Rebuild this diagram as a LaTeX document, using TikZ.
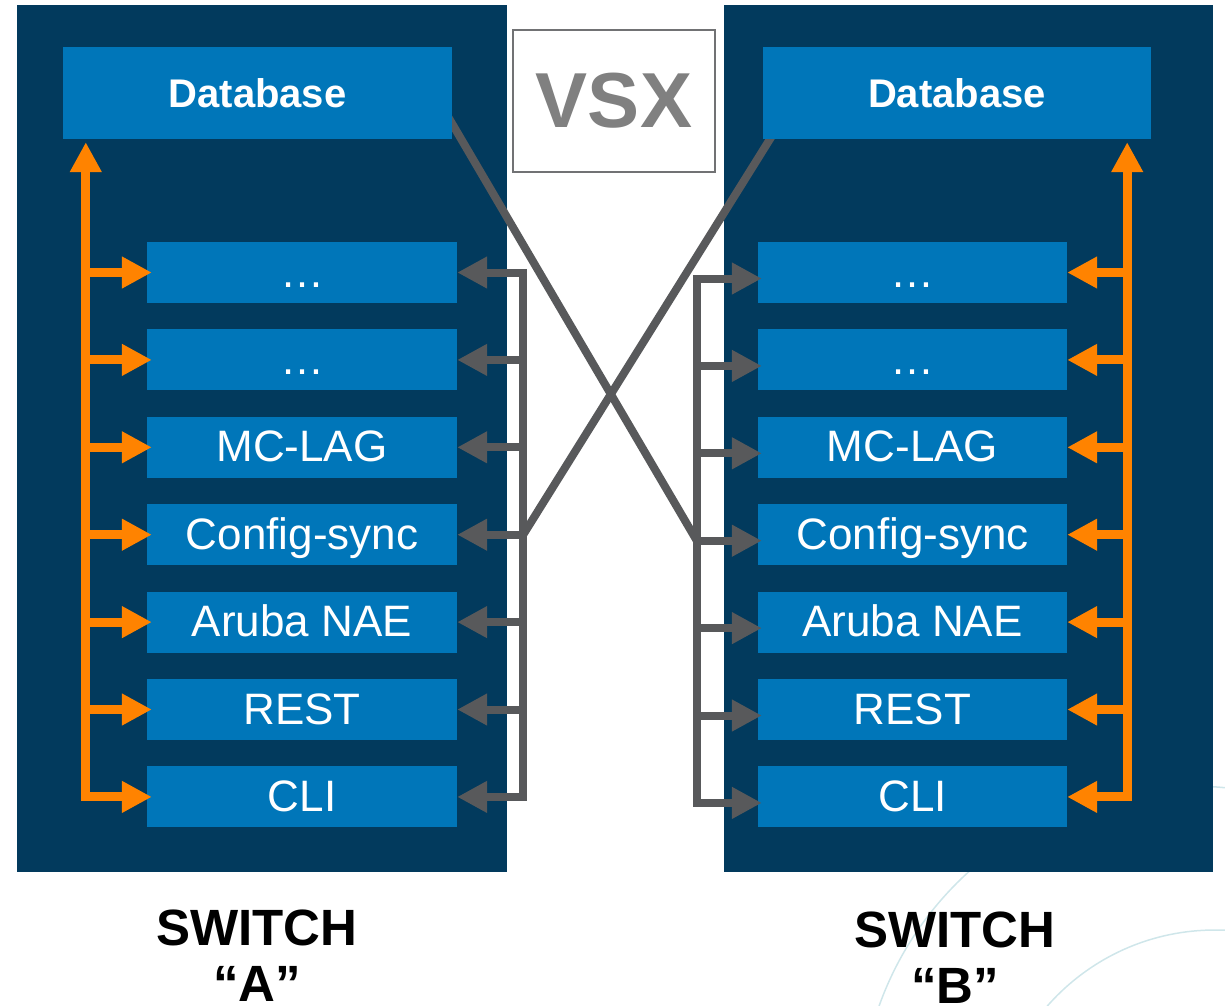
\documentclass[tikz,border=0pt]{standalone}
\usepackage{fontspec}
\setmainfont{Liberation Sans}
\usetikzlibrary{calc,arrows.meta,positioning}

\definecolor{navy}{HTML}{023A5D}
\definecolor{procblue}{HTML}{0076B9}
\definecolor{feedorange}{HTML}{FF8300}
\definecolor{syncgray}{HTML}{58595B}
\definecolor{vsxgray}{HTML}{808080}
\definecolor{swirl}{HTML}{CFE6EA}

\begin{document}
\begin{tikzpicture}
  [x=1pt, y=-1pt, >={Triangle[width=30pt,length=30pt]}]

% important vars
\edef\pitch{87.4}

% define styles
\tikzstyle{panel} = [fill=navy, inner sep=0pt, minimum height=867pt];
\tikzstyle{dbbox} = [fill=procblue, text=white, inner sep=0pt, minimum width=389pt, minimum height=92pt, font=\fontsize{40}{44}\selectfont\bfseries];
\tikzstyle{proc} = [fill=procblue, text=white, inner sep=0pt, minimum width=310pt, minimum height=61pt, text height=29pt, text depth=0pt, font=\fontsize{44}{48}\selectfont];
\tikzstyle{feed} = [draw=feedorange, line width=9pt];
\tikzstyle{sync} = [draw=syncgray, line width=8pt];
\tikzstyle{title} = [align=center, inner sep=0pt, font=\fontsize{51}{56}\selectfont\bfseries];

\useasboundingbox (0,0) rectangle (1225,1005);

% background swirls
\begin{scope}
  \clip (0,0) rectangle (1225,1005);
  \draw[swirl, line width=1.5pt] (1191,1117) circle (331pt);
  \draw[swirl, line width=1.5pt] (1215,1153) circle (223pt);
\end{scope}

% switch panels
\node[panel, minimum width=490pt] (swA) at (262,438.5) {};
\node[panel, minimum width=489pt] (swB) at (968.5,438.5) {};

% draw nodes
\foreach \i/\txt in {0/…, 1/…, 2/MC-LAG, 3/Config-sync, 4/Aruba NAE, 5/REST, 6/CLI}{
  \node[proc] (a\i) at (302,{272.5+\pitch*\i}) {\txt};
  \node[proc, minimum width=309pt] (b\i) at (912.5,{272.5+\pitch*\i}) {\txt};
}

% bus coordinates
\coordinate (gA) at ($(a0.east)+(66,0)$);
\coordinate (gB) at ($(b0.west)+(-61,6)$);

% cross links between the switches (under the databases)
\coordinate (dbAx) at (440,103);
\coordinate (dbBx) at (785,115);
\draw[sync] (dbAx) -- ($(b3.west)+(-61,6)$);
\draw[sync] (dbBx) -- (gA |- a3.east);

\node[dbbox] (dbA) at (257.5,93) {Database};
\node[dbbox, minimum width=388pt] (dbB) at (957,93) {Database};

% feed lines switch A
\coordinate (fA) at ($(dbA.south west)+(23,3)$);
\draw[feed, <->] ([xshift=5pt]a6.west) -| (fA);
\foreach \i in {0,...,5}
  \draw[feed, ->] (fA |- a\i.west) -- ([xshift=5pt]a\i.west);

% feed lines switch B
\coordinate (fB) at ($(dbB.south east)+(-24,3)$);
\draw[feed, <->] (b6.east) -| (fB);
\foreach \i in {0,...,5}
  \draw[feed, ->] (fB |- b\i.east) -- (b\i.east);

% sync bus switch A
\draw[sync, <->] (a0.east) -- (gA) |- (a6.east);
\foreach \i in {1,...,5}
  \draw[sync, ->] (gA |- a\i.east) -- (a\i.east);

% sync bus switch B
\draw[sync, <->] ($(b0.west)+(4,6)$) -- (gB) |- ($(b6.west)+(4,6)$);
\foreach \i in {1,...,5}
  \draw[sync, ->] ($(b\i.west)+(-61,6)$) -- ($(b\i.west)+(4,6)$);

% vsx label
\node[draw=syncgray!85, line width=1.5pt, fill=white, inner sep=0pt,
  minimum width=202pt, minimum height=142pt, text=vsxgray,
  font=\fontsize{78}{80}\selectfont\bfseries] (vsx) at (614,101) {VSX};

% switch names
\node[title] (tA) at (257,956) {SWITCH\\“A”};
\node[title] (tB) at (955,958) {SWITCH\\“B”};

\end{tikzpicture}
\end{document}
